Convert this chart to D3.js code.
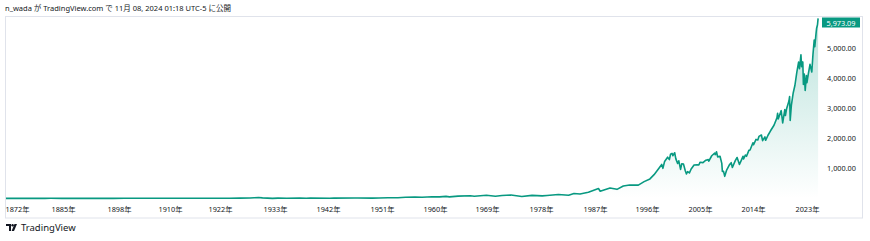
<!DOCTYPE html>
<html>
<head>
<meta charset="utf-8">
<script src="https://cdn.jsdelivr.net/npm/d3@7/dist/d3.min.js"></script>
<style>
  body { margin: 0; background: #fff; }
  text { font-family: "Noto Sans", "Noto Sans CJK JP", sans-serif; }
  .axis text { fill: #131722; font-size: 7.3px; }
</style>
</head>
<body>
<div id="plot"></div>
<script>
// S&P 500 (decimal year, index level)
var years = [1871.0, 1872.5, 1873.8, 1877.5, 1879.9, 1881.5, 1884.7, 1887.0, 1890.0, 1893.6,
    1896.7, 1899.3, 1901.4, 1903.8, 1906.1, 1907.9, 1909.8, 1914.0, 1916.8, 1917.9,
    1919.8, 1921.6, 1924.0, 1926.0, 1928.0, 1929.7, 1930.5, 1932.5, 1933.5, 1935.0,
    1937.2, 1938.3, 1939.0, 1942.3, 1943.0, 1946.4, 1947.0, 1949.4, 1950.5, 1952.0,
    1953.7, 1955.0, 1956.6, 1957.8, 1959.5, 1960.8, 1961.9, 1962.5, 1964.0, 1966.1,
    1966.8, 1968.9, 1970.4, 1971.5, 1973.0, 1974.8, 1976.5, 1978.2, 1979.0, 1980.9,
    1982.6, 1983.5, 1984.5, 1985.9, 1987.6, 1987.9, 1989.6, 1990.8, 1991.9, 1993.0,
    1994.5, 1995.5, 1996.5, 1997.2, 1997.9, 1998.5, 1998.7, 1998.99, 1999.5, 1999.8,
    2000.0, 2000.25, 2000.4, 2000.7, 2000.9, 2001.2, 2001.4, 2001.7, 2001.9, 2002.2,
    2002.5, 2002.7, 2002.9, 2003.2, 2003.5, 2003.99, 2004.5, 2004.8, 2005.0, 2005.5,
    2006.0, 2006.4, 2006.5, 2006.99, 2007.5, 2007.6, 2007.8, 2008.0, 2008.4, 2008.7,
    2008.8, 2009.0, 2009.2, 2009.5, 2009.99, 2010.3, 2010.5, 2010.99, 2011.3, 2011.7,
    2011.99, 2012.3, 2012.4, 2012.7, 2012.9, 2013.3, 2013.5, 2013.99, 2014.1, 2014.5,
    2014.8, 2014.99, 2015.4, 2015.6, 2015.99, 2016.1, 2016.5, 2016.9, 2017.5, 2017.99,
    2018.1, 2018.2, 2018.7, 2018.95, 2019.3, 2019.4, 2019.6, 2019.99, 2020.1, 2020.2,
    2020.4, 2020.7, 2020.99, 2021.3, 2021.6, 2021.75, 2021.99, 2022.1, 2022.3, 2022.4,
    2022.55, 2022.7, 2022.9, 2022.99, 2023.2, 2023.5, 2023.8, 2023.99, 2024.2, 2024.3,
    2024.5, 2024.6, 2024.75, 2024.85];
var values = [4.44, 5.2, 4.6, 3.4, 5.0, 6.3, 4.3, 5.6, 5.4, 4.1,
    4.0, 6.6, 8.1, 6.3, 9.9, 6.3, 10.3, 7.7, 10.0, 6.8,
    9.6, 6.5, 9.0, 12.7, 17.5, 31.3, 21, 4.8, 11.5, 9.0,
    18.1, 9.9, 12.5, 8.0, 11.5, 18.7, 15.2, 14.0, 18, 24,
    23, 40, 48, 40, 58, 54, 71, 55, 80, 92,
    77, 106, 75, 99, 118, 68, 104, 88, 100, 135,
    107, 166, 150, 210, 330, 240, 350, 304, 417, 450,
    445, 560, 650, 790, 970, 1130, 1000, 1230, 1370, 1290,
    1469, 1498, 1420, 1517, 1315, 1160, 1250, 965, 1150, 1140,
    920, 815, 890, 848, 980, 1112, 1120, 1110, 1200, 1190,
    1270, 1290, 1240, 1418, 1503, 1455, 1549, 1380, 1400, 1166,
    900, 900, 735, 930, 1115, 1187, 1030, 1258, 1360, 1131,
    1258, 1400, 1310, 1440, 1400, 1597, 1606, 1848, 1782, 1960,
    1940, 2059, 2107, 1920, 2044, 1930, 2098, 2238, 2430, 2674,
    2824, 2640, 2914, 2506, 2946, 2752, 2980, 3231, 3380, 2585,
    3100, 3500, 3756, 4180, 4522, 4307, 4766, 4373, 4530, 3785,
    4130, 3585, 4080, 3840, 4109, 4450, 4194, 4770, 5254, 5035,
    5460, 5648, 5762, 5973.09];

var tickYears = [1872, 1885, 1898, 1910, 1922, 1933, 1942, 1951, 1960, 1969, 1978, 1987, 1996, 2005, 2014, 2023];
var priceTicks = [1000, 2000, 3000, 4000, 5000];
var lastPrice = 5973.09;
var title = "n_wada が TradingView.com で 11月 08, 2024 01:18 UTC-5 に公開";

var data = years.map(function(d, i) { return { year: d, value: values[i] }; });

var width = 870, height = 241;
var lineColor = "#089981";

var svg = d3.select("#plot")
    .append("svg")
    .attr("width", width)
    .attr("height", height);

// time axis on TradingView is bar based, so the spacing between labels is uneven
var x = d3.scaleLinear()
    .domain([1871].concat(tickYears))
    .range([6, 17, 63, 119, 170, 220, 275, 328, 382, 435, 487, 541, 595, 647, 700, 753, 807]);

var y = d3.scaleLinear()
    .domain([0, 6000])
    .range([198.5, 17.6]);

// title
svg.append("text")
    .attr("x", 5)
    .attr("y", 10.5)
    .attr("fill", "#131722")
    .style("font-size", "7.5px")
    .text(title);

// frame
svg.append("rect")
    .attr("x", 5.5)
    .attr("y", 16.5)
    .attr("width", 857)
    .attr("height", 201.5)
    .attr("fill", "none")
    .attr("stroke", "#e0e3eb");

var defs = svg.append("defs");
var grad = defs.append("linearGradient")
    .attr("id", "areaGrad")
    .attr("x1", 0).attr("y1", 0)
    .attr("x2", 0).attr("y2", 1);
grad.append("stop").attr("offset", "0%").attr("stop-color", lineColor).attr("stop-opacity", 0.28);
grad.append("stop").attr("offset", "100%").attr("stop-color", lineColor).attr("stop-opacity", 0.0);

defs.append("clipPath").attr("id", "pane")
    .append("rect")
    .attr("x", 6).attr("y", 17)
    .attr("width", 814).attr("height", 200);

var pane = svg.append("g").attr("clip-path", "url(#pane)");

var area = d3.area()
    .x(function(d) { return x(d.year); })
    .y0(y(0))
    .y1(function(d) { return y(d.value); });

var line = d3.line()
    .x(function(d) { return x(d.year); })
    .y(function(d) { return y(d.value); });

pane.append("path")
    .datum(data)
    .attr("d", area)
    .attr("fill", "url(#areaGrad)");

pane.append("path")
    .datum(data)
    .attr("d", line)
    .attr("fill", "none")
    .attr("stroke", lineColor)
    .attr("stroke-width", 1.6)
    .attr("stroke-linejoin", "round");

// x axis
var xAxis = svg.append("g").attr("class", "axis")
    .attr("transform", "translate(0,203.5)")
    .call(d3.axisBottom(x).tickValues(tickYears).tickSize(0).tickPadding(3)
        .tickFormat(function(d) { return d + "年"; }));
xAxis.select(".domain").remove();
xAxis.selectAll("text").style("font-family", null);

// y axis
var yAxis = svg.append("g").attr("class", "axis")
    .attr("transform", "translate(820,0)")
    .call(d3.axisRight(y).tickValues(priceTicks).tickSize(0).tickPadding(7)
        .tickFormat(d3.format(",.2f")));
yAxis.select(".domain").remove();
yAxis.selectAll("text").style("font-family", null);

// last price label
svg.append("rect")
    .attr("x", 822)
    .attr("y", 17.5)
    .attr("width", 38)
    .attr("height", 10)
    .attr("fill", lineColor);
svg.append("text")
    .attr("x", 841)
    .attr("y", 22.5)
    .attr("text-anchor", "middle")
    .attr("dominant-baseline", "central")
    .attr("fill", "#fff")
    .style("font-size", "7.3px")
    .text(d3.format(",.2f")(lastPrice));

// TradingView logo
var logo = svg.append("g").attr("transform", "translate(6,224)");
logo.append("path")
    .attr("d", "M0,0 H5 V7 H3 V2 H0 Z")
    .attr("fill", "#131722");
logo.append("circle")
    .attr("cx", 6.6).attr("cy", 1.2).attr("r", 1.2)
    .attr("fill", "#131722");
logo.append("path")
    .attr("d", "M8.5,0 H11 L8,7 H5.6 Z")
    .attr("fill", "#131722");
svg.append("text")
    .attr("x", 21)
    .attr("y", 231)
    .attr("fill", "#131722")
    .style("font-size", "9.5px")
    .text("TradingView");
</script>
</body>
</html>
